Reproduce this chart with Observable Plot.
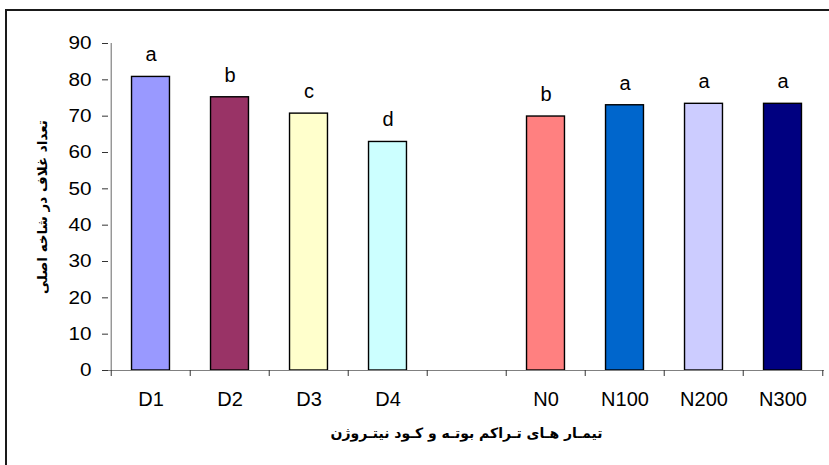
<!DOCTYPE html>
<html>
<head>
<meta charset="utf-8">
<script src="https://cdn.jsdelivr.net/npm/d3@7"></script>
<script src="https://cdn.jsdelivr.net/npm/@observablehq/plot@0.6"></script>
<style>
  html, body { margin: 0; padding: 0; background: #fff; overflow: hidden; }
  #wrap { position: relative; width: 829px; height: 465px; overflow: hidden; }
  #frame { position: absolute; left: 5px; top: 9px; width: 900px; height: 600px; border: 2px solid #1a1a1a; box-sizing: border-box; pointer-events: none; }
  #chart { position: absolute; left: 0; top: 0; }
</style>
</head>
<body>
<div id="wrap"><div id="chart"></div><div id="frame"></div></div>
<script>
// categories on the x axis (empty string = gap between the two groups)
const categories = ["D1", "D2", "D3", "D4", "", "N0", "N100", "N200", "N300"];
// bar categories, values, mean-separation letters and colours
const barCats = ["D1", "D2", "D3", "D4", "N0", "N100", "N200", "N300"];
const barValues = [80.8, 75.2, 70.7, 62.9, 69.9, 73.0, 73.4, 73.4];
const barLetters = ["a", "b", "c", "d", "b", "a", "a", "a"];
const barColors = ["#9999FF", "#993366", "#FFFFCC", "#CCFFFF", "#FF8080", "#0066CC", "#CCCCFF", "#000080"];
const yTicks = [0, 10, 20, 30, 40, 50, 60, 70, 80, 90];
const yTitle = "تعداد غلاف در شاخه اصلی";
const xTitle = "تیمـار هـای تـراکم بوتـه و کـود نیتـروژن";

const data = barCats.map((c, i) => ({cat: c, value: barValues[i], letter: barLetters[i]}));

const W = 829, H = 465;
const mL = 108, mR = 5, mT = 43, mB = 95;
const step = (W - mL - mR) / categories.length;
const inset = (step - 38.5) / 2;
const font = "'Liberation Sans', Arial, sans-serif";

const chart = Plot.plot({
  width: W,
  height: H,
  marginLeft: mL,
  marginRight: mR,
  marginTop: mT,
  marginBottom: mB,
  style: {fontFamily: font, fontSize: "18px", color: "#000", background: "transparent"},
  x: {type: "band", domain: categories, padding: 0, label: null},
  y: {domain: [0, 90], label: null},
  color: {domain: barCats, range: barColors},
  marks: [
    Plot.barY(data, {x: "cat", y: "value", fill: "cat", stroke: "#000", strokeWidth: 1.4, insetLeft: inset, insetRight: inset}),
    Plot.text(data, {x: "cat", y: "value", text: "letter", dy: -22, fontSize: 20, fontFamily: font, fill: "#000"}),
    Plot.ruleY([0], {stroke: "#808080", strokeWidth: 1.2}),
    Plot.ruleX([categories[0]], {dx: -step / 2, stroke: "#808080", strokeWidth: 1.2}),
    Plot.axisY({ticks: yTicks, tickSize: 6, tickPadding: 11, tickFormat: d => String(d), label: null, stroke: "#333", fontSize: 18, fontFamily: font}),
    Plot.axisX({tickSize: 0, tickPadding: 21, label: null, fontSize: 20, fontFamily: font}),
    Plot.axisX({ticks: categories, tickSize: 6, text: null, dx: -step / 2, label: null, stroke: "#333"}),
    Plot.axisX({ticks: [categories[categories.length - 1]], tickSize: 6, text: null, dx: step / 2, label: null, stroke: "#333"}),
    Plot.text([xTitle], {frameAnchor: "bottom", dy: 67, text: d => d, textAnchor: "middle", fontFamily: "'DejaVu Sans', sans-serif", fontWeight: "bold", fontSize: 14, fill: "#000"}),
    Plot.text([yTitle], {frameAnchor: "left", dx: -66, rotate: -90, text: d => d, textAnchor: "middle", fontFamily: "'DejaVu Sans', sans-serif", fontWeight: "bold", fontSize: 13.5, fill: "#000"})
  ]
});
document.getElementById("chart").appendChild(chart);

// the original's y tick labels are horizontally stretched
chart.querySelectorAll('g[aria-label="y-axis tick label"] text').forEach(t => {
  const len = t.getComputedTextLength();
  t.setAttribute("textLength", (len * 1.15).toFixed(2));
  t.setAttribute("lengthAdjust", "spacingAndGlyphs");
});
</script>
</body>
</html>
